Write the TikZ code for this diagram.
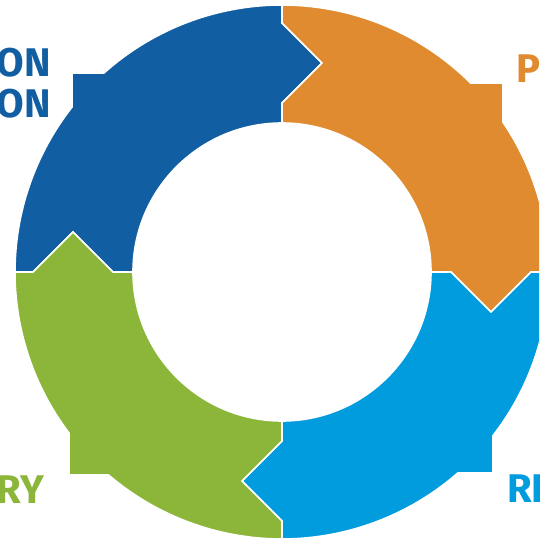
\documentclass[tikz,border=0pt]{standalone}
\usepackage{fontspec}
\setmainfont{Fira Sans}
\definecolor{dblue}{RGB}{18,94,162}
\definecolor{orangeA}{RGB}{224,139,47}
\definecolor{lblue}{RGB}{0,156,222}
\definecolor{greenA}{RGB}{139,182,57}
\begin{document}
\begin{tikzpicture}[x=1pt,y=1pt,
  seg/.style={draw=white,line width=1.6pt,line join=miter},
  lbl/.style={inner sep=0pt,font=\fontsize{40}{44}\selectfont\bfseries}]
\useasboundingbox (-282,-271) rectangle (257,272);
\clip (-282,-271) rectangle (257,272);
\fill[white] (-282,-271) rectangle (257,272);
% dark blue (left -> top)
\path[seg,fill=dblue] (-149,0) -- (-169,0) -- (-209,40) -- (-249,0) -- (-267,0)
  arc[start angle=180,end angle=141.86,radius=267] -- (-210,199) -- (-178.0,199)
  arc[start angle=131.82,end angle=90,radius=267] -- (0,249) -- (40,209) -- (0,169) -- (0,149)
  arc[start angle=90,end angle=180,radius=149] -- cycle;
% orange (top -> right)
\path[seg,fill=orangeA] (0,149) -- (0,169) -- (40,209) -- (0,249) -- (0,267)
  arc[start angle=90,end angle=45.06,radius=267] -- (221,189) -- (221,149.8)
  arc[start angle=34.13,end angle=0,radius=267] -- (249,0) -- (209,-40) -- (169,0) -- (149,0)
  arc[start angle=0,end angle=90,radius=149] -- cycle;
% light blue (right -> bottom)
\path[seg,fill=lblue] (149,0) -- (169,0) -- (209,-40) -- (249,0) -- (267,0)
  arc[start angle=0,end angle=-37.79,radius=267] -- (211,-201) -- (175.75,-201)
  arc[start angle=-48.84,end angle=-90,radius=267] -- (0,-249) -- (-40,-209) -- (0,-169) -- (0,-149)
  arc[start angle=-90,end angle=0,radius=149] -- cycle;
% green (bottom -> left)
\path[seg,fill=greenA] (0,-149) -- (0,-169) -- (-40,-209) -- (0,-249) -- (0,-267)
  arc[start angle=270,end angle=229.49,radius=267] -- (-213,-203) -- (-213,-161.0)
  arc[start angle=217.09,end angle=180,radius=267] -- (-249,0) -- (-209,40) -- (-169,0) -- (-149,0)
  arc[start angle=180,end angle=270,radius=149] -- cycle;
% labels (cut off at the picture's edges, as in the reference)
\node[lbl,text=dblue,anchor=base east] (t1) at (-231,195) {ON};
\node[lbl,text=dblue,anchor=base east] (t2) at (-231,154) {ON};
\node[lbl,text=orangeA,anchor=base west] (t3) at (234,189) {P};
\node[lbl,text=lblue,anchor=base west] (t4) at (225,-230) {RE};
\node[lbl,text=greenA,anchor=base east] (t5) at (-238,-231) {RY};
\end{tikzpicture}
\end{document}
